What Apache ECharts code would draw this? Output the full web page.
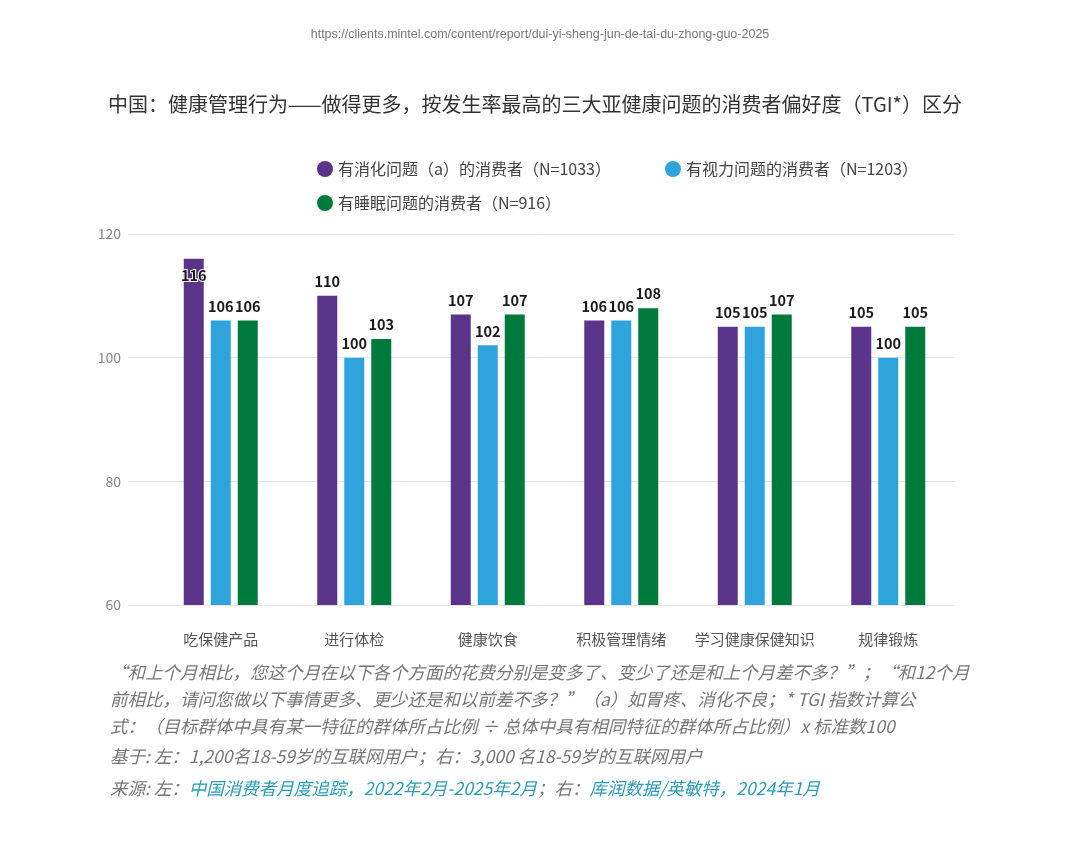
<!DOCTYPE html>
<html><head><meta charset="utf-8">
<script src="https://cdn.jsdelivr.net/npm/echarts@6/dist/echarts.min.js"></script>
<style>html,body{margin:0;padding:0;background:#fff}#c{width:1080px;height:848px}</style>
</head><body><div id="c"></div>
<script>
const categories = ['吃保健产品','进行体检','健康饮食','积极管理情绪','学习健康保健知识','规律锻炼'];
const seriesNames = ['有消化问题（a）的消费者（N=1033）','有视力问题的消费者（N=1203）','有睡眠问题的消费者（N=916）'];
const digestive = [116,110,107,106,105,105];
const vision = [106,100,102,106,105,100];
const sleep = [106,103,107,108,107,105];
const yTicks = [60,80,100,120];
const colors = ['#5a3488','#2ea3dc','#007a3c'];

const F = '"Noto Sans CJK SC","Noto Sans",sans-serif';
const chart = echarts.init(document.getElementById('c'));
const labelBase = {show:true, position:'top', distance:7, color:'#1a1a1a', fontWeight:'bold', fontSize:14.5, fontFamily:F};
function mk(i, data){
  return {
    name: seriesNames[i], type:'bar', xAxisIndex:1, yAxisIndex:1,
    barWidth:20, barGap:'35%',
    itemStyle:{color:colors[i]},
    label: labelBase,
    data: data.map(v => (v >= 115 ? {value:v, label:{position:'insideTop', distance:10, color:'#1a1a1a', textBorderColor:'#fff', textBorderWidth:2}} : v))
  };
}
chart.setOption({
  animation:false,
  color: colors,
  textStyle:{fontFamily:F},
  title:[
    {text:'https://clients.mintel.com/content/report/dui-yi-sheng-jun-de-tai-du-zhong-guo-2025', left:'center', top:23, textStyle:{fontSize:12.5, fontWeight:'normal', color:'#777', fontFamily:'"Liberation Sans",Arial,sans-serif'}},
    {text:'中国：健康管理行为——做得更多，按发生率最高的三大亚健康问题的消费者偏好度（TGI*）区分', left:108, top:94, padding:0, textStyle:{fontSize:20, fontWeight:'normal', color:'#333', fontFamily:F}}
  ],
  legend:[
    {data:[seriesNames[0], seriesNames[1]], left:312, top:156, itemWidth:16, itemHeight:16, icon:'circle', itemGap:54, textStyle:{fontSize:16, color:'#444', fontFamily:F}},
    {data:[seriesNames[2]], left:312, top:190, itemWidth:16, itemHeight:16, icon:'circle', textStyle:{fontSize:16, color:'#444', fontFamily:F}}
  ],
  grid:[
    {left:128, right:125, top:234, bottom:243},
    {left:154, right:125, top:234, bottom:243}
  ],
  xAxis:[
    {type:'category', gridIndex:0, data:[''], show:false},
    {type:'category', gridIndex:1, data:categories, axisLine:{show:false}, axisTick:{show:false},
     axisLabel:{interval:0, margin:27, fontSize:15, color:'#555', fontFamily:F}}
  ],
  yAxis:[
    {type:'value', gridIndex:0, min:60, max:120, interval:20,
     axisLabel:{margin:7, fontSize:14, color:'#888', fontFamily:F,
       formatter: v => yTicks.includes(v) ? String(v) : ''},
     splitLine:{lineStyle:{color:'#e6e6e6', width:1}},
     axisLine:{show:false}, axisTick:{show:false}},
    {type:'value', gridIndex:1, min:60, max:120, interval:20, show:false, splitLine:{show:false}}
  ],
  series:[
    mk(0, digestive), mk(1, vision), mk(2, sleep),
    {type:'line', xAxisIndex:0, yAxisIndex:0, data:[], silent:true}
  ],
  graphic:[
    {type:'text', left:110, top:664, style:{text:'“和上个月相比，您这个月在以下各个方面的花费分别是变多了、变少了还是和上个月差不多？”；“和12个月', fill:'#777', font:'italic 17.5px '+F}},
    {type:'text', left:110, top:691, style:{text:'前相比，请问您做以下事情更多、更少还是和以前差不多？”（a）如胃疼、消化不良；* TGI 指数计算公', fill:'#777', font:'italic 17.5px '+F}},
    {type:'text', left:110, top:718, style:{text:'式：（目标群体中具有某一特征的群体所占比例 ÷ 总体中具有相同特征的群体所占比例）x 标准数100', fill:'#777', font:'italic 17.5px '+F}},
    {type:'text', left:110, top:748, style:{text:'基于: 左：1,200名18-59岁的互联网用户；右：3,000 名18-59岁的互联网用户', fill:'#777', font:'italic 17.5px '+F}},
    {type:'text', left:110, top:780, style:{
      text:'{g|来源: 左：}{b|中国消费者月度追踪，2022年2月-2025年2月}{g|；右：}{b|库润数据/英敏特，2024年1月}',
      font:'italic 17.5px '+F,
      rich:{g:{fill:'#777', font:'italic 17.5px '+F}, b:{fill:'#2a9cb8', font:'italic 17.5px '+F}}
    }}
  ]
});
</script></body></html>
